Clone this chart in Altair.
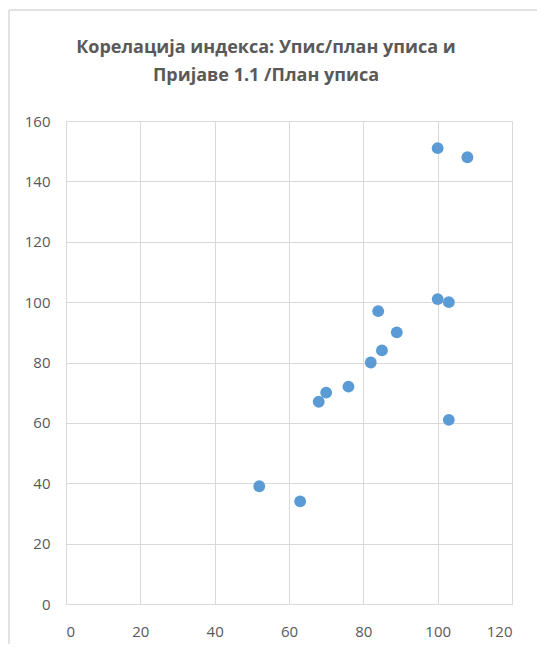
import altair as alt
import pandas as pd

# Data
x_vals = [100, 108, 100, 103, 84, 89, 85, 82, 76, 70, 68, 103, 52, 63]
y_vals = [151, 148, 101, 100, 97, 90, 84, 80, 72, 70, 67, 61, 39, 34]
title_lines = ["Корелација индекса: Упис/план уписа и", "Пријаве 1.1 /План уписа"]

df = pd.DataFrame({"x": x_vals, "y": y_vals})

FONT = "Open Sans"
GRAY = "#d9d9d9"
TXT = "#595959"

points = alt.Chart(df).mark_circle(size=140, opacity=1, color="#5B9BD5").encode(
    x=alt.X("x:Q", scale=alt.Scale(domain=[0, 120], nice=False),
            axis=alt.Axis(values=[0, 20, 40, 60, 80, 100, 120], title=None)),
    y=alt.Y("y:Q", scale=alt.Scale(domain=[0, 160], nice=False),
            axis=alt.Axis(values=[0, 20, 40, 60, 80, 100, 120, 140, 160], title=None)),
)

frame_df = pd.DataFrame({"a": [0]})
frame_left = alt.Chart(frame_df).mark_rule(color=GRAY, strokeWidth=1.5).encode(
    x=alt.value(-57), y=alt.value(-111), y2=alt.value(540)
)
frame_top = alt.Chart(frame_df).mark_rule(color=GRAY, strokeWidth=1.5).encode(
    x=alt.value(-57), x2=alt.value(500), y=alt.value(-111)
)

title_layers = []
for i, line in enumerate(title_lines):
    title_layers.append(
        alt.Chart(pd.DataFrame({"t": [line]})).mark_text(
            font=FONT, fontSize=18, fontWeight="bold", color=TXT,
            align="center", baseline="middle",
        ).encode(text="t:N", x=alt.value(200), y=alt.value(-73 + 28 * i))
    )

chart = alt.layer(frame_left, frame_top, *title_layers, points).properties(
    width=446,
    height=483,
    autosize=alt.AutoSizeParams(type="none"),
    padding={"left": 58, "top": 113, "right": 25, "bottom": 40},
).configure_view(stroke=None).configure_axis(
    domainColor=GRAY,
    domainWidth=1,
    gridColor=GRAY,
    gridWidth=1,
    ticks=False,
    labelFont=FONT,
    labelFontSize=15,
    labelColor=TXT,
).configure_axisX(labelPadding=20).configure_axisY(labelPadding=16)

chart.save("out.html", embed_options={"renderer": "svg", "actions": False})
